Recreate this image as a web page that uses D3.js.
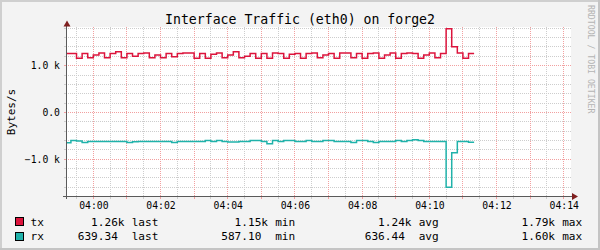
<!DOCTYPE html>
<html>
<head>
<meta charset="utf-8">
<script src="https://cdn.jsdelivr.net/npm/d3@7"></script>
<style>
body { margin: 0; background: #f3f3f3; }
text { font-family: "DejaVu Sans Mono", monospace; }
</style>
</head>
<body>
<div id="chart"></div>
<script>

// DATA

// each value is the rate of the 10 s step that ends at startTime + i * 10 s
var startTime = new Date(2020, 0, 1, 3, 59, 10);
var stepSeconds = 10;

var txValues = [1258, 1258, 1258, 1157, 1258, 1171, 1229, 1272, 1171, 1258,
                1300, 1171, 1258, 1200, 1258, 1272, 1171, 1229, 1171, 1258,
                1193, 1258, 1272, 1272, 1157, 1258, 1157, 1243, 1272, 1171,
                1229, 1300, 1171, 1200, 1258, 1157, 1258, 1157, 1272, 1258,
                1157, 1243, 1258, 1157, 1258, 1272, 1171, 1229, 1258, 1157,
                1272, 1272, 1171, 1258, 1157, 1258, 1272, 1157, 1229, 1272,
                1157, 1258, 1272, 1258, 1157, 1229, 1272, 1171, 1258, 1790,
                1407, 1272, 1157, 1258];

var rxValues = [650, 650, 600, 614, 643, 621, 621, 621, 621, 621,
                621, 621, 643, 628, 621, 621, 621, 621, 621, 621,
                643, 621, 621, 621, 621, 621, 600, 621, 600, 621,
                636, 636, 621, 621, 600, 600, 621, 671, 600, 621,
                600, 600, 621, 621, 600, 621, 621, 600, 600, 621,
                621, 621, 643, 600, 600, 621, 643, 621, 621, 621,
                600, 621, 600, 587, 600, 621, 621, 621, 621, 1600,
                864, 621, 621, 639.34];

var seriesNames = ["tx", "rx"];
var statNames = ["last", "min", "avg", "max"];
var txStats = [1260, 1150, 1240, 1790];
var rxStats = [639.34, 587.10, 636.44, 1600];

var yLabelTicks = [-1000, 0, 1000];
var timeStart = new Date(2020, 0, 1, 3, 59, 13);
var timeEnd = new Date(2020, 0, 1, 4, 14, 13);

// LAYOUT

var width = 600, height = 250;
var plotLeft = 67, plotRight = 571, plotTop = 27, plotBottom = 196;

var color = d3.scaleOrdinal()
    .domain(seriesNames)
    .range(["#dc143c", "#20b2aa"]);

var x = d3.scaleTime()
    .domain([timeStart, timeEnd])
    .range([plotLeft, plotRight]);

var y = d3.scaleLinear()
    .domain([-1800, 1800])
    .range([196.5, 28.3]);

var svg = d3.select("#chart").append("svg")
    .attr("width", width)
    .attr("height", height);

// BACKGROUND AND SHADE

svg.append("rect").attr("width", width).attr("height", height).attr("fill", "#f3f3f3");
svg.append("rect").attr("width", width).attr("height", 2).attr("fill", "#cfcfcf");
svg.append("rect").attr("width", 2).attr("height", height).attr("fill", "#cfcfcf");
svg.append("rect").attr("x", width - 2).attr("width", 2).attr("height", height).attr("fill", "#c4c4c4");
svg.append("rect").attr("y", height - 2).attr("width", width).attr("height", 2).attr("fill", "#c4c4c4");

svg.append("rect")
    .attr("x", plotLeft)
    .attr("y", plotTop)
    .attr("width", plotRight - plotLeft)
    .attr("height", plotBottom - plotTop)
    .attr("fill", "#ffffff");

// GRID

var crisp = function(v) { return Math.floor(v) + 0.5; };

var hValues = d3.range(-1800, 1801, 200);
var hMinor = hValues.filter(function(v) { return v % 1000 !== 0; });
var hMajor = hValues.filter(function(v) { return v % 1000 === 0; });

var vMinor = d3.timeSecond.every(30).range(timeStart, timeEnd)
    .filter(function(t) { return t.getSeconds() !== 0; });
var vMajor = d3.timeMinute.every(1).range(timeStart, timeEnd);

var grid = svg.append("g").attr("class", "grid");

function hGrid(vals, col) {
    grid.selectAll(null)
        .data(vals)
        .enter().append("line")
        .attr("x1", plotLeft - 1).attr("x2", plotRight + 1)
        .attr("y1", function(d) { return crisp(y(d)); })
        .attr("y2", function(d) { return crisp(y(d)); })
        .attr("stroke", col)
        .attr("stroke-dasharray", "1,1");
    grid.selectAll(null)
        .data(vals)
        .enter().append("line")
        .attr("x1", plotLeft - 3).attr("x2", plotLeft - 1)
        .attr("y1", function(d) { return crisp(y(d)); })
        .attr("y2", function(d) { return crisp(y(d)); })
        .attr("stroke", col);
}

function vGrid(vals, col) {
    grid.selectAll(null)
        .data(vals)
        .enter().append("line")
        .attr("y1", plotTop).attr("y2", plotBottom)
        .attr("x1", function(d) { return crisp(x(d)); })
        .attr("x2", function(d) { return crisp(x(d)); })
        .attr("stroke", col)
        .attr("stroke-dasharray", "1,1");
    grid.selectAll(null)
        .data(vals)
        .enter().append("line")
        .attr("y1", plotBottom + 1).attr("y2", plotBottom + 3)
        .attr("x1", function(d) { return crisp(x(d)); })
        .attr("x2", function(d) { return crisp(x(d)); })
        .attr("stroke", col);
}

hGrid(hMinor.filter(function(v) { return v !== -1800; }), "#cdcdcd");
vGrid(vMinor, "#cdcdcd");
hGrid(hMajor, "#f2a0a0");
vGrid(vMajor, "#f2a0a0");

// LINES

svg.append("clipPath").attr("id", "plot-clip")
    .append("rect")
    .attr("x", plotLeft)
    .attr("y", plotTop - 2)
    .attr("width", plotRight - plotLeft)
    .attr("height", plotBottom - plotTop + 2);

var series = [
    { name: "tx", values: txValues, sign: 1 },
    { name: "rx", values: rxValues, sign: -1 }
];

var line = d3.line()
    .curve(d3.curveStepBefore)
    .x(function(d, i) { return x(d3.timeSecond.offset(startTime, i * stepSeconds)); })
    .y(function(d) { return y(d); });

svg.append("g")
    .attr("clip-path", "url(#plot-clip)")
    .selectAll("path")
    .data(series)
    .enter().append("path")
    .attr("fill", "none")
    .attr("stroke", function(d) { return color(d.name); })
    .attr("stroke-width", 1.5)
    .attr("d", function(d) {
        return line(d.values.map(function(v) { return v * d.sign; }));
    });

// AXES

svg.append("line")
    .attr("x1", 66.5).attr("x2", 66.5)
    .attr("y1", 199).attr("y2", 25)
    .attr("stroke", "#5a5a5a");

svg.append("line")
    .attr("x1", 63).attr("x2", 573)
    .attr("y1", 196.5).attr("y2", 196.5)
    .attr("stroke", "#5a5a5a");

svg.append("path")
    .attr("d", "M67,20.5 L63.5,26.5 L70.5,26.5 Z")
    .attr("fill", "#7f1f1f");

svg.append("path")
    .attr("d", "M578,196.5 L572,193 L572,200 Z")
    .attr("fill", "#7f1f1f");

var xAxis = d3.axisBottom(x)
    .tickValues(d3.timeMinute.every(2).range(timeStart, timeEnd))
    .tickFormat(d3.timeFormat("%H:%M"))
    .tickSize(0)
    .tickPadding(6);

var gx = svg.append("g")
    .attr("transform", "translate(0," + plotBottom + ")")
    .call(xAxis);

var yAxis = d3.axisLeft(y)
    .tickValues(yLabelTicks)
    .tickFormat(function(d) { return d === 0 ? "0.0" : d3.format(".1f")(d / 1000) + " k"; })
    .tickSize(0)
    .tickPadding(7);

var gy = svg.append("g")
    .attr("transform", "translate(" + plotLeft + ",0)")
    .call(yAxis);

[gx, gy].forEach(function(g) {
    g.select(".domain").remove();
    g.attr("font-family", null).attr("font-size", null);
    g.selectAll("text")
        .attr("fill", "#000")
        .style("font-size", "9.75px")
        .style("font-family", "'DejaVu Sans Mono', monospace");
});

// TITLE, UNIT, WATERMARK

svg.append("text")
    .attr("x", 300)
    .attr("y", 24)
    .attr("text-anchor", "middle")
    .style("font-size", "13.2px")
    .text("Interface Traffic (eth0) on forge2");

svg.append("text")
    .attr("transform", "translate(15,112) rotate(-90)")
    .attr("text-anchor", "middle")
    .style("font-size", "11px")
    .text("Bytes/s");

svg.append("text")
    .attr("transform", "translate(588,5) rotate(90)")
    .attr("fill", "#b3b3b3")
    .style("font-size", "8.2px")
    .text("RRDTOOL / TOBI OETIKER");

// LEGEND

var legendStats = [txStats, rxStats];
var rowBaselines = [225.8, 240.3];
var valueEnds = [124.5, 268, 411.5, 555];

function fmtStat(v) {
    return v >= 1000 ? (v / 1000).toFixed(2) + "k" : v.toFixed(2) + " ";
}

seriesNames.forEach(function(name, r) {
    var base = rowBaselines[r];
    var row = svg.append("g").attr("class", "legend-row");

    row.append("rect")
        .attr("x", 15.5)
        .attr("y", Math.floor(base - 8.3) + 0.5)
        .attr("width", 8)
        .attr("height", 8)
        .attr("fill", color(name))
        .attr("stroke", "#000");

    row.append("text")
        .attr("x", 30.5)
        .attr("y", base)
        .style("font-size", "11.1px")
        .text(name);

    legendStats[r].forEach(function(v, k) {
        row.append("text")
            .attr("x", valueEnds[k])
            .attr("y", base)
            .attr("text-anchor", "end")
            .attr("xml:space", "preserve")
            .style("white-space", "pre")
            .style("font-size", "11.1px")
            .text(fmtStat(v));
        row.append("text")
            .attr("x", valueEnds[k] + 7.2)
            .attr("y", base)
            .style("font-size", "11.1px")
            .text(statNames[k]);
    });
});

</script>
</body>
</html>
